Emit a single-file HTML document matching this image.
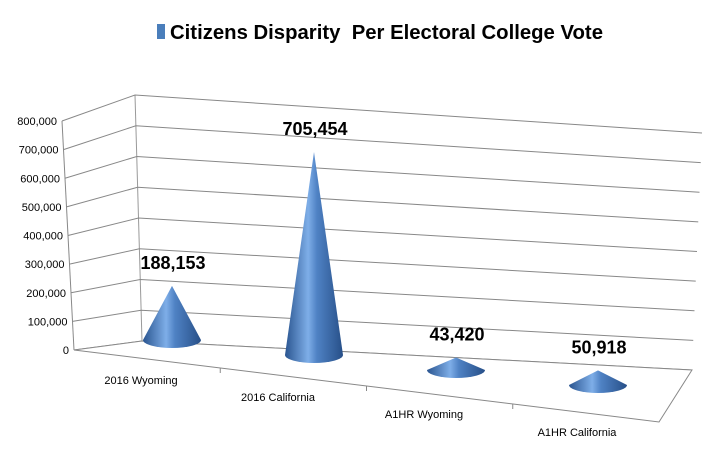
<!DOCTYPE html>
<html><head><meta charset="utf-8"><style>
html,body{margin:0;padding:0;background:#fff;}
svg{display:block;font-family:"Liberation Sans",sans-serif;}
</style></head><body>
<svg id="chart" width="709" height="449" viewBox="0 0 709 449">
<defs>
<linearGradient id="coneGrad" x1="0" y1="0" x2="1" y2="0">
<stop offset="0" stop-color="#2a5590"/>
<stop offset="0.4" stop-color="#7eaee8"/>
<stop offset="0.55" stop-color="#4f82c4"/>
<stop offset="1" stop-color="#274f88"/>
</linearGradient>
</defs>
<rect x="157" y="24" width="8" height="15" fill="#4a7ebb"/>
<text x="170" y="39" font-size="20" font-weight="bold" fill="#000" style="white-space:pre" textLength="433" lengthAdjust="spacingAndGlyphs">Citizens Disparity  Per Electoral College Vote</text>
<g id="grid"></g>
<g id="marks"></g>
</svg>
<script>
const categories = ["2016 Wyoming", "2016 California", "A1HR Wyoming", "A1HR California"];
const values = [188153, 705454, 43420, 50918];
const valueLabels = ["188,153", "705,454", "43,420", "50,918"];
const yTicks = [0, 100000, 200000, 300000, 400000, 500000, 600000, 700000, 800000];
const yTickLabels = ["0", "100,000", "200,000", "300,000", "400,000", "500,000", "600,000", "700,000", "800,000"];

const NS = "http://www.w3.org/2000/svg";
const grid = document.getElementById('grid');
const marks = document.getElementById('marks');
function mk(tag, attrs, parent) {
  const e = document.createElementNS(NS, tag);
  for (const k in attrs) e.setAttribute(k, attrs[k]);
  parent.appendChild(e);
  return e;
}
const yMax = 800000;
function yFront(v) { return 350 - v / yMax * 229; }
function yBackL(v) { return 341 - v / yMax * 246; }
function yBackR(v) { return 370 - v / yMax * 237; }
function xFront(v) { return 74 - v / yMax * 12; }
function xBackL(v) { return 142 - v / yMax * 7; }
function xBackR(v) { return 692 + v / yMax * 10; }

let p;
p = mk('line', {x1: xFront(0), y1: yFront(0), x2: xFront(yMax), y2: yFront(yMax), stroke: '#888', 'stroke-width': 1}, grid);


p = mk('line', {x1: xBackL(0), y1: yBackL(0), x2: xBackL(yMax), y2: yBackL(yMax), stroke: '#999', 'stroke-width': 1}, grid);


yTicks.forEach((v, i) => {
  const g1 = mk('polyline', {points: `${xFront(v)},${yFront(v)} ${xBackL(v)},${yBackL(v)} ${xBackR(v)},${yBackR(v)}`, fill: 'none', stroke: '#888', 'stroke-width': 1}, grid);
  
  
  const t = mk('text', {x: xFront(v) - 5, y: yFront(v) + 4, 'text-anchor': 'end', 'font-size': 11, fill: '#000'}, grid);
  t.textContent = yTickLabels[i];
  
  
});
const floor = mk('polygon', {points: `74,350 142,341 692,370 659,422`, fill: '#fff', stroke: '#888', 'stroke-width': 1}, grid);


function frontEdge(t) { return [74 + t * (659 - 74), 350 + t * (422 - 350)]; }
for (let i = 1; i < categories.length; i++) {
  const [x, y] = frontEdge(i / categories.length);
  const tk = mk('line', {x1: x, y1: y, x2: x, y2: y + 5, stroke: '#888'}, grid);
  
  
}
const labelPos = [[141, 384], [278, 401], [424, 418], [577, 436]];
categories.forEach((c, i) => {
  const t = mk('text', {x: labelPos[i][0], y: labelPos[i][1], 'text-anchor': 'middle', 'font-size': 11, fill: '#000'}, grid);
  t.textContent = c;
  
  
});
const pxPerUnit = 203 / 705454;
categories.forEach((c, i) => {
  const cx = 172 + i * 142;
  const by = 340 + i * 15;
  const rx = 29, ry = 8;
  const h = values[i] * pxPerUnit;
  const g = mk('g', {}, marks);
  
  
  mk('path', {d: `M${cx - rx},${by} L${cx},${by - h} L${cx + rx},${by} A${rx},${ry} 0 0 1 ${cx - rx},${by} Z`, fill: 'url(#coneGrad)'}, g);
  const lbl = mk('text', {x: cx + 1, y: by - h - 17, 'text-anchor': 'middle', 'font-size': 18, 'font-weight': 'bold', fill: '#000'}, marks);
  lbl.textContent = valueLabels[i];
  
  
});
</script>
</body></html>
